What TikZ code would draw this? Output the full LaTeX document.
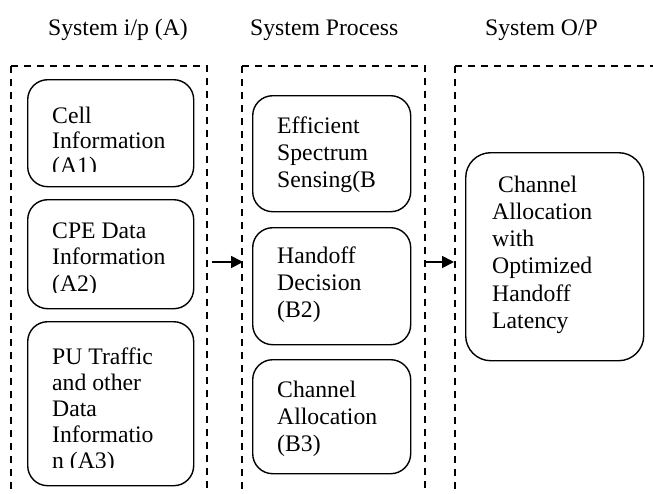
\documentclass[tikz,border=0pt]{standalone}
\usepackage{fontspec}
\setmainfont{Liberation Serif}
\usetikzlibrary{arrows.meta}
\begin{document}
\begin{tikzpicture}[x=1pt,y=-1pt,
  frame/.style={draw, line width=1.2pt, dash pattern=on 7pt off 6pt},
  block/.style={draw, line width=1.4pt, rounded corners=20pt, anchor=north west, inner sep=0pt},
  flow/.style={-{Triangle[length=12pt,width=12pt]}, line width=1.8pt},
  title/.style={anchor=base west, inner sep=0pt, font=\fontsize{23.7}{25}\selectfont},
  body/.style={anchor=base west, inner sep=0pt, align=left, font=\fontsize{23.7}{#1}\selectfont},
  body/.default=25]
\useasboundingbox (0,0) rectangle (653,493);

% column headings
\node[title] (tA) at (48,35) {System i/p (A)};
\node[title] (tB) at (250,35) {System Process};
\node[title] (tC) at (485,35) {System O/P};

% dashed column frames (open at the bottom / right edge)
\draw[frame] (11,66) -- (11,493);
\draw[frame] (11,66) -- (207,66) -- (207,493);
\draw[frame] (242,66) -- (242,493);
\draw[frame] (242,66) -- (425,66) -- (425,493);
\draw[frame] (455,66) -- (455,493);
\draw[frame] (455,66) -- (653,66);

% input blocks (text anchored on the baseline of its last line)
\node[block, minimum width=166pt, minimum height=107pt] (a1) at (27,79) {};
\node[block, minimum width=166pt, minimum height=109pt] (a2) at (27,199) {};
\node[block, minimum width=166pt, minimum height=164pt] (a3) at (27,321) {};
\begin{scope}
  \clip (27,79) rectangle (193,171);
  \node[body=25] (a1t) at (52,173) {Cell\\Information\\(A1)};
\end{scope}
\begin{scope}
  \clip (27,199) rectangle (193,292);
  \node[body=26.5] (a2t) at (52,291) {CPE Data\\Information\\(A2)};
\end{scope}
\begin{scope}
  \clip (27,321) rectangle (193,467);
  \node[body=26] (a3t) at (52,468) {PU Traffic\\and other\\Data\\Informatio\\n (A3)};
\end{scope}

% process blocks
\node[block, minimum width=158pt, minimum height=116pt] (b1) at (252,95) {};
\node[block, minimum width=158pt, minimum height=117pt] (b2) at (252,227) {};
\node[block, minimum width=158pt, minimum height=114pt] (b3) at (252,359) {};
\node[body=27.3] (b1t) at (277,187.6) {Efficient\\Spectrum\\Sensing(B};
\node[body=27.3] (b2t) at (277,317.6) {Handoff\\Decision\\(B2)};
\node[body=27.3] (b3t) at (277,451.6) {Channel\\Allocation\\(B3)};

% output block
\node[block, rounded corners=25pt, minimum width=178pt, minimum height=208pt] (c1) at (465,152) {};
\node[body=27.3] (c1t) at (492,328.5) {\hspace{6pt}Channel\\Allocation\\with\\Optimized\\Handoff\\Latency};

% flow between the columns
\coordinate (outA) at (212,262);
\coordinate (inB) at (243,262);
\coordinate (outB) at (425,262);
\coordinate (inC) at (454,262);
\draw[flow] (outA) -- (inB);
\draw[flow] (outB) -- (inC);
\end{tikzpicture}
\end{document}
